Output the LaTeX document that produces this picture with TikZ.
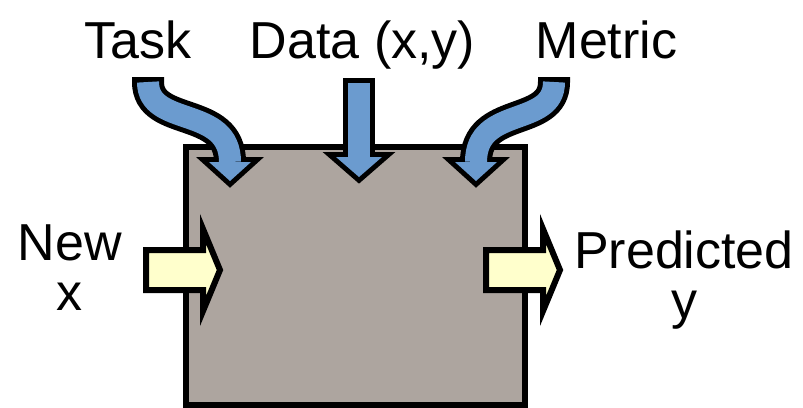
\documentclass[tikz,border=0pt]{standalone}
\usepackage{fontspec}
\setmainfont{Liberation Sans}
\definecolor{boxgray}{HTML}{ADA59F}
\definecolor{arrblue}{HTML}{6B9BCF}
\definecolor{arryel}{HTML}{FFFFCC}
\begin{document}
\begin{tikzpicture}[x=0.75pt,y=-0.75pt,
  lbl/.style={font=\fontsize{39}{37.5}\selectfont, inner sep=0pt, align=center},
  boxst/.style={draw=black, line width=4.5pt, fill=boxgray, inner sep=0pt,
    minimum width=253.9pt, minimum height=193.5pt},
  shaftout/.style={line width=24pt, draw=black},
  shaftin/.style={line width=16.5pt, draw=arrblue},
  headout/.style={line width=7.5pt, draw=black, fill=black, line join=miter},
  headin/.style={fill=arrblue},
  yarrow/.style={line width=4.5pt, draw=black, fill=arryel, line join=miter}]
\useasboundingbox (0,0) rectangle (803,407);
% main box
\node[boxst] (box) at (355.25,276) {};
% labels
\node[lbl, anchor=base] (task) at (137.5,58) {Task};
\node[lbl, anchor=base] (data) at (362.5,58) {Data (x,y)};
\node[lbl, anchor=base] (metric) at (606.5,58) {Metric};
\node[lbl, anchor=base] (newx) at (70,310) {New\\x};
\node[lbl, anchor=base] (pred) at (684,318) {Predicted\\y};
% coordinates of block-arrow ends
\coordinate (tA) at (148,82);
\coordinate (tB) at (230,162);
\coordinate (dA) at (359,83);
\coordinate (dB) at (359,157);
\coordinate (mA) at (554,82);
\coordinate (mB) at (476,162);
% outlines of blue arrows
\draw[shaftout] (148,77) -- (tA) .. controls (148,128) and (230,105) .. (tB);
\draw[headout] (209,162) -- (251,162) -- (230,181) -- cycle;
\draw[shaftout] (359,78) -- (dB);
\draw[headout] (336,157) -- (382,157) -- (359,177) -- cycle;
\draw[shaftout] (554,77) -- (mA) .. controls (554,128) and (476,105) .. (mB);
\draw[headout] (455,162) -- (497,162) -- (476,181) -- cycle;
% fills of blue arrows
\draw[shaftin] (tA) .. controls (148,128) and (230,105) .. (tB);
\fill[headin] (209,162) -- (251,162) -- (230,181) -- cycle;
\draw[shaftin] (dA) -- (dB);
\fill[headin] (336,157) -- (382,157) -- (359,177) -- cycle;
\draw[shaftin] (mA) .. controls (554,128) and (476,105) .. (mB);
\fill[headin] (455,162) -- (497,162) -- (476,181) -- cycle;
% yellow arrows
\draw[yarrow] (146,250) -- (203,250) -- (203,229) -- (220,270) -- (203,311) -- (203,290) -- (146,290) -- cycle;
\draw[yarrow] (486,250) -- (543,250) -- (543,229) -- (560,270) -- (543,311) -- (543,290) -- (486,290) -- cycle;
\end{tikzpicture}
\end{document}
